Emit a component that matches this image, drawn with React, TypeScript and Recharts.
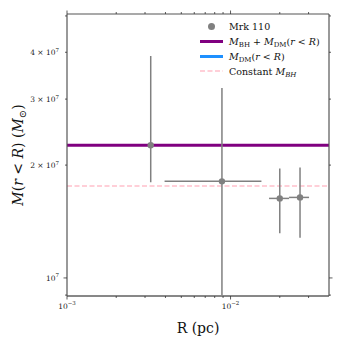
import { ComposedChart, ErrorBar, ReferenceLine, Scatter, XAxis, YAxis } from "recharts";

// Mrk 110 enclosed mass measurements
const radiusPc = [0.00325, 0.00886, 0.02, 0.0266];
const radiusErrLow = [0, 0.00491, 0.0028, 0.0038];
const radiusErrHigh = [0, 0.00659, 0.0028, 0.0036];
const massSun = [2.26e7, 1.81e7, 1.63e7, 1.64e7];
const massErrLow = [0.46e7, 0.91e7, 0.314e7, 0.36e7];
const massErrHigh = [1.65e7, 1.4e7, 0.33e7, 0.33e7];

const totalMass = 2.26e7; // M_BH + M_DM(r<R)
const bhMass = 1.76e7; // constant M_BH

const xTicks = [0.001, 0.002, 0.003, 0.004, 0.005, 0.006, 0.007, 0.008, 0.009, 0.01, 0.02, 0.03];
const xMajor = [0.001, 0.01];
const xMajorLabels = ["−3", "−2"];
const yTicks = [9e6, 1e7, 2e7, 3e7, 4e7, 5e7];
const yLabelled = [1e7, 2e7, 3e7, 4e7];
const yLabelPrefix = ["", "2 × ", "3 × ", "4 × "];

const points = radiusPc.map((x, i) => ({
  x,
  y: massSun[i],
  xErr: [radiusErrLow[i], radiusErrHigh[i]],
  yErr: [massErrLow[i], massErrHigh[i]],
}));

const serif = "DejaVu Serif";
const axisColor = "#333";
const gray = "#808080";

function XTick(props: any) {
  const { x, y, payload, top } = props;
  const idx = xMajor.indexOf(payload.value);
  const len = idx >= 0 ? 3.5 : 2;
  const dir = top ? -1 : 1;
  return (
    <g>
      <line x1={x} y1={y} x2={x} y2={y + dir * len} stroke={axisColor} strokeWidth={0.8} />
      {!top && idx >= 0 && (
        <text x={x} y={y + 12.5} textAnchor="middle" fontFamily={serif} fontSize={7.5} fill="#222">
          10<tspan dy={-3.5} fontSize={5.5}>{xMajorLabels[idx]}</tspan>
        </text>
      )}
    </g>
  );
}

function YTick(props: any) {
  const { x, y, payload, right } = props;
  const major = payload.value === 1e7;
  const len = major ? 3.5 : 2;
  const dir = right ? 1 : -1;
  const idx = yLabelled.indexOf(payload.value);
  return (
    <g>
      <line x1={x} y1={y} x2={x + dir * len} y2={y} stroke={axisColor} strokeWidth={0.8} />
      {!right && idx >= 0 && (
        <text x={x - 8} y={y + 3} textAnchor="end" fontFamily={serif} fontSize={7.5} fill="#222">
          {yLabelPrefix[idx]}10<tspan dy={-3.5} fontSize={5.5}>7</tspan>
        </text>
      )}
    </g>
  );
}

const Dot = (props: any) => <circle cx={props.cx} cy={props.cy} r={3.2} fill={gray} />;

const legendRow = (top: number): React.CSSProperties => ({
  position: "absolute",
  left: 200,
  top: top - 7,
  height: 14,
  display: "flex",
  alignItems: "center",
  fontFamily: serif,
  fontSize: 9.5,
  color: "#111",
  whiteSpace: "nowrap",
});

const subStyle: React.CSSProperties = { fontSize: 7, verticalAlign: "-2px", lineHeight: 0 };

function LegendBox() {
  return (
    <div>
      <div style={legendRow(26)}>
        <div style={{ width: 23, display: "flex", justifyContent: "center" }}>
          <div style={{ width: 7, height: 7, borderRadius: "50%", background: gray }} />
        </div>
        <span style={{ marginLeft: 6 }}>Mrk 110</span>
      </div>
      <div style={legendRow(41.5)}>
        <div style={{ width: 23, height: 3, background: "#800080" }} />
        <span style={{ marginLeft: 6 }}>
          <i>M</i><span style={subStyle}>BH</span> + <i>M</i><span style={subStyle}>DM</span>(<i>r</i> &lt; <i>R</i>)
        </span>
      </div>
      <div style={legendRow(56.5)}>
        <div style={{ width: 23, height: 3, background: "#1e90ff" }} />
        <span style={{ marginLeft: 6 }}>
          <i>M</i><span style={subStyle}>DM</span>(<i>r</i> &lt; <i>R</i>)
        </span>
      </div>
      <div style={legendRow(71)}>
        <svg width={23} height={4}>
          <line x1={0} y1={2} x2={23} y2={2} stroke="#ffc0cb" strokeWidth={1.5} strokeDasharray="5 2.5" />
        </svg>
        <span style={{ marginLeft: 6 }}>
          Constant <i>M<span style={subStyle}>BH</span></i>
        </span>
      </div>
    </div>
  );
}

export default function App() {
  return (
    <div style={{ position: "absolute", left: 0, top: 0, width: 343, height: 343, background: "#fff" }}>
      <ComposedChart width={343} height={343} data={points} margin={{ top: 13, right: 13, left: 0, bottom: 0 }}>
        <XAxis
          dataKey="x"
          type="number"
          scale="log"
          domain={[0.001, 0.04]}
          allowDataOverflow
          ticks={xTicks}
          interval={0}
          height={47}
          tickSize={0}
          tickMargin={0}
          tickLine={false}
          axisLine={{ stroke: "#111", strokeWidth: 1 }}
          tick={<XTick />}
          label={(p: any) => {
            const vb = p.viewBox;
            return (
              <text x={vb.x + vb.width / 2} y={vb.y + 37} textAnchor="middle" fontFamily={serif} fontSize={14} fill="#111">
                R (pc)
              </text>
            );
          }}
        />
        <XAxis
          xAxisId="t"
          orientation="top"
          dataKey="x"
          type="number"
          scale="log"
          domain={[0.001, 0.04]}
          allowDataOverflow
          ticks={xTicks}
          interval={0}
          height={1}
          tickSize={0}
          tickMargin={0}
          tickLine={false}
          axisLine={{ stroke: "#555", strokeWidth: 1.2 }}
          tick={<XTick top />}
        />
        <YAxis
          type="number"
          scale="log"
          domain={[8.95e6, 5.06e7]}
          allowDataOverflow
          ticks={yTicks}
          interval={0}
          width={67}
          tickSize={0}
          tickMargin={0}
          tickLine={false}
          axisLine={{ stroke: "#555", strokeWidth: 1.2 }}
          tick={<YTick />}
          label={(p: any) => {
            const vb = p.viewBox;
            const cx = 23;
            const cy = vb.y + vb.height / 2;
            return (
              <text
                x={cx}
                y={cy}
                transform={`rotate(-90 ${cx} ${cy})`}
                textAnchor="middle"
                fontFamily={serif}
                fontSize={14}
                fill="#111"
              >
                <tspan fontStyle="italic">M</tspan>(<tspan fontStyle="italic">r</tspan> &lt; <tspan fontStyle="italic">R</tspan>) (
                <tspan fontStyle="italic">M</tspan>
                <tspan dy={3} fontSize={10}>⊙</tspan>
                <tspan dy={-3}>)</tspan>
              </text>
            );
          }}
        />
        <YAxis
          yAxisId="r"
          orientation="right"
          type="number"
          scale="log"
          domain={[8.95e6, 5.06e7]}
          allowDataOverflow
          ticks={yTicks}
          interval={0}
          width={1}
          tickSize={0}
          tickMargin={0}
          tickLine={false}
          axisLine={{ stroke: "#555", strokeWidth: 1.2 }}
          tick={<YTick right />}
        />
        <ReferenceLine y={totalMass} stroke="#800080" strokeWidth={3} ifOverflow="hidden" />
        <ReferenceLine y={bhMass} stroke="#ffc0cb" strokeWidth={1.5} strokeDasharray="5 2.5" ifOverflow="hidden" />
        <Scatter dataKey="y" shape={<Dot />} isAnimationActive={false}>
          <ErrorBar dataKey="yErr" direction="y" width={0} stroke={gray} strokeWidth={1.5} />
          <ErrorBar dataKey="xErr" direction="x" width={0} stroke={gray} strokeWidth={1.5} />
        </Scatter>
      </ComposedChart>
      <LegendBox />
    </div>
  );
}
